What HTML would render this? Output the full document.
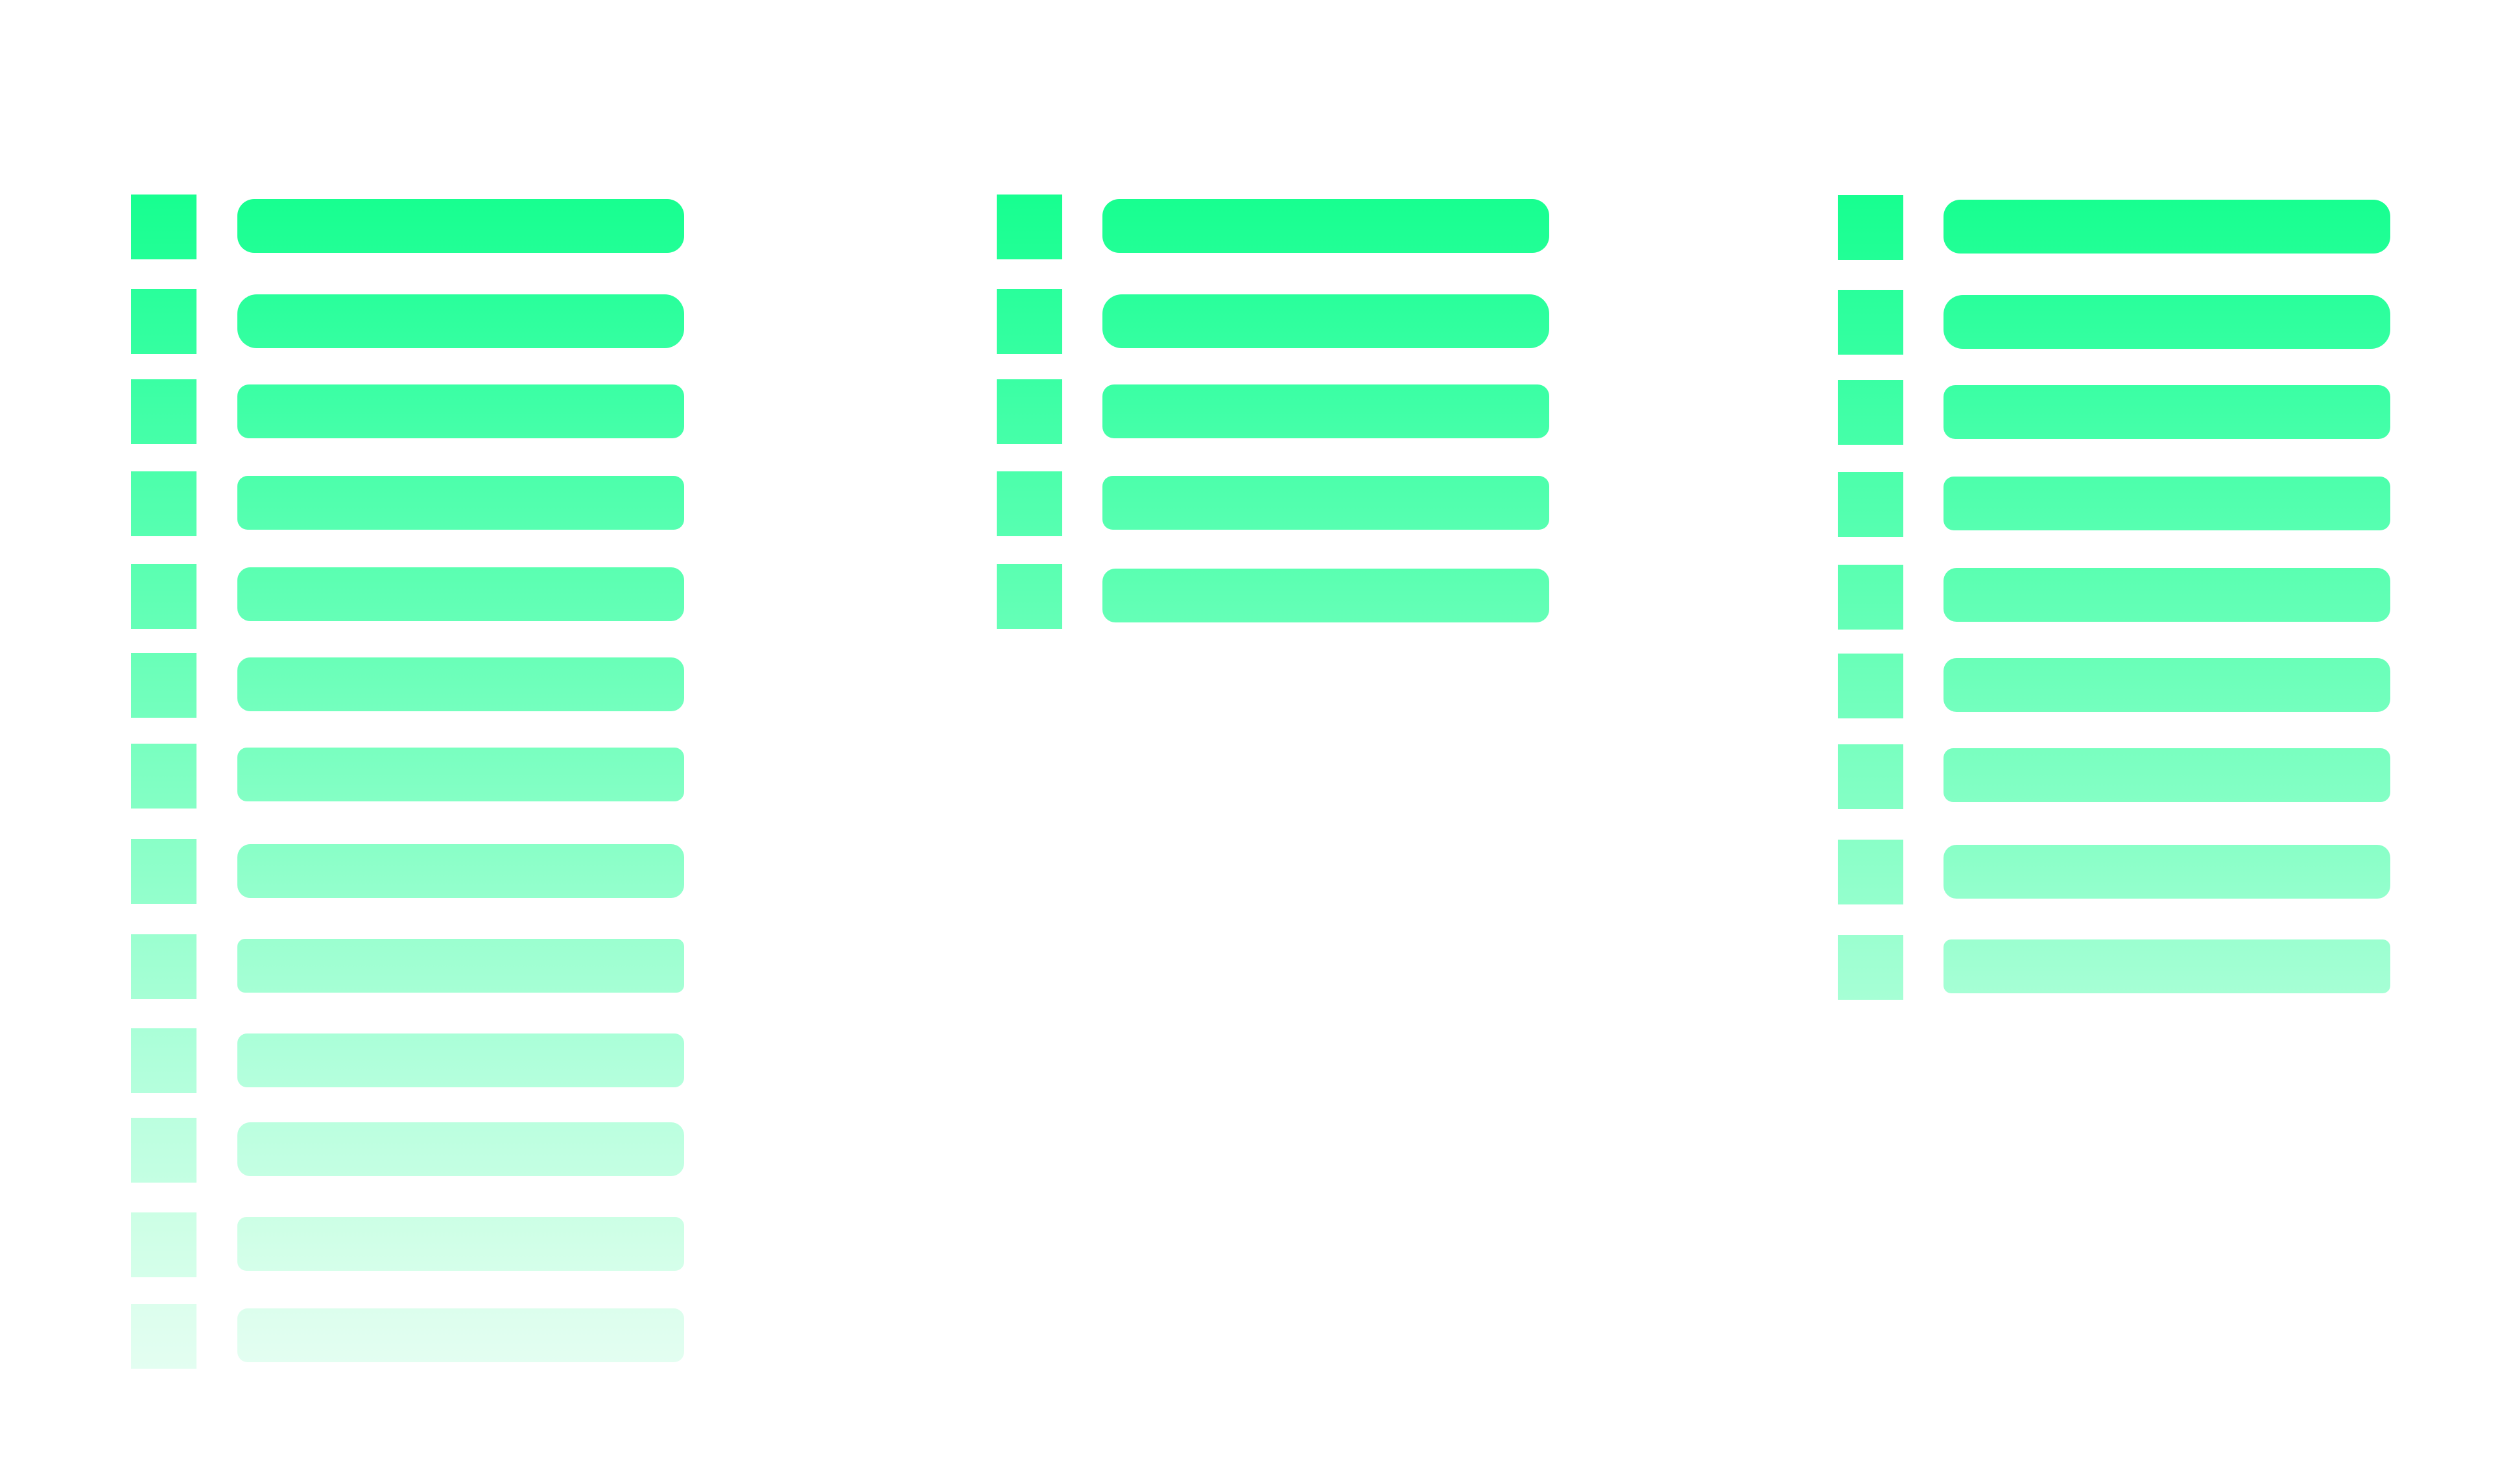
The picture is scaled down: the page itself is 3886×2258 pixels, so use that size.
<!DOCTYPE html>
<html><head><meta charset="utf-8"><style>
html,body{margin:0;padding:0;background:#fff;}
body{width:3886px;height:2258px;position:relative;overflow:hidden;}
.s{position:absolute;width:101px;height:100px;}
.b{position:absolute;height:83px;width:689px;}
.c1 .s{left:202px}.c1 .b{left:366px}
.c2 .s{left:1537px}.c2 .b{left:1700px}
.c3 .s{left:2834px}.c3 .b{left:2997px}
.r0{background:linear-gradient(#17ff90,#22ff96)}
.r1{background:linear-gradient(#29ff9b,#35ffa1)}
.r2{background:linear-gradient(#3affa4,#46ffa9)}
.r3{background:linear-gradient(#4cffab,#57ffb1)}
.r4{background:linear-gradient(#5affb1,#65ffb7)}
.r5{background:linear-gradient(#69ffb8,#74ffbe)}
.r6{background:linear-gradient(#79ffc0,#84ffc5)}
.r7{background:linear-gradient(#89ffc7,#94ffcd)}
.r8{background:linear-gradient(#9bffd0,#a6ffd5)}
.r9{background:linear-gradient(#aaffd8,#b5ffdd)}
.r10{background:linear-gradient(#bbffdf,#c4ffe3)}
.r11{background:linear-gradient(#ccffe5,#d5ffea)}
.r12{background:linear-gradient(#dcfeed,#e3fef1)}
</style></head><body>
<div class="c1">
<div class="s r0" style="top:300px"></div><div class="b r0" style="top:307px;border-radius:26px"></div>
<div class="s r1" style="top:446px"></div><div class="b r1" style="top:454px;border-radius:30px"></div>
<div class="s r2" style="top:585px"></div><div class="b r2" style="top:593px;border-radius:18px"></div>
<div class="s r3" style="top:727px"></div><div class="b r3" style="top:734px;border-radius:16px"></div>
<div class="s r4" style="top:870px"></div><div class="b r4" style="top:875px;border-radius:20px"></div>
<div class="s r5" style="top:1007px"></div><div class="b r5" style="top:1014px;border-radius:20px"></div>
<div class="s r6" style="top:1147px"></div><div class="b r6" style="top:1153px;border-radius:15px"></div>
<div class="s r7" style="top:1294px"></div><div class="b r7" style="top:1302px;border-radius:20px"></div>
<div class="s r8" style="top:1441px"></div><div class="b r8" style="top:1448px;border-radius:12px"></div>
<div class="s r9" style="top:1586px"></div><div class="b r9" style="top:1594px;border-radius:15px"></div>
<div class="s r10" style="top:1724px"></div><div class="b r10" style="top:1731px;border-radius:20px"></div>
<div class="s r11" style="top:1870px"></div><div class="b r11" style="top:1877px;border-radius:14px"></div>
<div class="s r12" style="top:2011px"></div><div class="b r12" style="top:2018px;border-radius:16px"></div>
</div>
<div class="c2">
<div class="s r0" style="top:300px"></div><div class="b r0" style="top:307px;border-radius:26px"></div>
<div class="s r1" style="top:446px"></div><div class="b r1" style="top:454px;border-radius:30px"></div>
<div class="s r2" style="top:585px"></div><div class="b r2" style="top:593px;border-radius:18px"></div>
<div class="s r3" style="top:727px"></div><div class="b r3" style="top:734px;border-radius:16px"></div>
<div class="s r4" style="top:870px"></div><div class="b r4" style="top:877px;border-radius:20px"></div>
</div>
<div class="c3">
<div class="s r0" style="top:301px"></div><div class="b r0" style="top:308px;border-radius:26px"></div>
<div class="s r1" style="top:447px"></div><div class="b r1" style="top:455px;border-radius:30px"></div>
<div class="s r2" style="top:586px"></div><div class="b r2" style="top:594px;border-radius:18px"></div>
<div class="s r3" style="top:728px"></div><div class="b r3" style="top:735px;border-radius:16px"></div>
<div class="s r4" style="top:871px"></div><div class="b r4" style="top:876px;border-radius:20px"></div>
<div class="s r5" style="top:1008px"></div><div class="b r5" style="top:1015px;border-radius:20px"></div>
<div class="s r6" style="top:1148px"></div><div class="b r6" style="top:1154px;border-radius:15px"></div>
<div class="s r7" style="top:1295px"></div><div class="b r7" style="top:1303px;border-radius:20px"></div>
<div class="s r8" style="top:1442px"></div><div class="b r8" style="top:1449px;border-radius:12px"></div>
</div>
</body></html>
